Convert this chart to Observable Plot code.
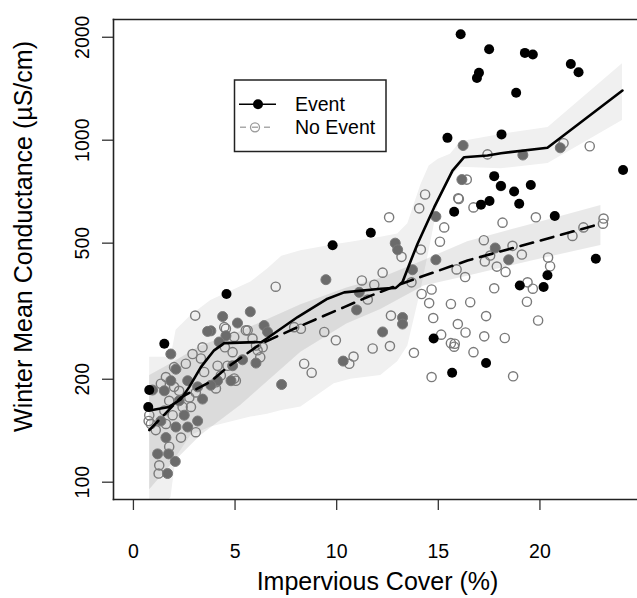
<!DOCTYPE html>
<html><head><meta charset="utf-8">
<script src="https://cdn.jsdelivr.net/npm/d3@7"></script>
<script src="https://cdn.jsdelivr.net/npm/@observablehq/plot@0.6"></script>
<style>
body{margin:0;overflow:hidden;background:#fff;font-family:"Liberation Sans",Arial,Helvetica,sans-serif}
#wrap{position:relative;width:637px;height:598px;overflow:hidden}
</style>
</head><body><div id="wrap"></div>
<script>
// ---- tick labels / titles ----
const xTicks = [0, 5, 10, 15, 20];
const yTicks = [100, 200, 500, 1000, 2000];
const xTitle = "Impervious Cover (%)";
const yTitle = "Winter Mean Conductance (µS/cm)";
const legendLabels = ["Event", "No Event"];

// ---- Event sites (black) ----
const eventX = [16.1,17.5,19.26,19.65,17.0,16.9,21.52,21.9,18.83,15.45,18.11,24.09,17.75,18.08,18.73,19.55,17.52,17.1,18.98,15.78,20.73,22.75,19.01,20.18,20.37,14.77,17.35,15.68,11.68,9.8,4.58,1.52,0.78,0.73];
const eventY = [2040,1845,1800,1780,1575,1520,1670,1580,1376,1016,1040,818,785,735,708,740,664,648,652,618,600,450,376,372,403,263,223,209,536,493,355,254,186,166];

// ---- overlapping / mixed sites (dark grey filled) ----
const mixedX = [16.22,19.16,21.0,16.16,14.88,17.8,18.46,14.88,13.73,13.24,13.24,12.26,12.88,13.0,9.47,11.11,10.98,10.32,7.29,4.39,5.75,5.12,6.43,6.6,4.55,4.22,3.81,5.37,6.03,4.8,4.88,3.65,1.84,2.09,2.67,1.84,1.52,0.94,3.16,3.4,2.25,2.5,3.16,2.09,2.67,1.35,1.6,1.19,1.73,2.06,1.68,4.14,3.81];
const mixedY = [965,905,950,767,598,484,447,447,418,303,290,275,500,478,391,359,319,226,193,305,315,292,287,275,268,257,277,228,223,198,219,276,237,214,198,198,185,186,190,175,173,157,151,145,145,151,135,121,121,115,106,198,192];

// ---- No Event sites (open grey) ----
const noEventX = [3.04,2.91,3.4,2.58,3.48,2.0,4.06,3.07,2.25,1.76,2.83,1.52,0.86,1.1,1.93,2.34,3.07,1.76,1.27,1.24,1.6,2.42,2.0,1.6,1.35,2.75,0.78,0.75,
 7.0,4.55,5.53,4.96,6.11,3.32,4.14,4.96,4.06,7.91,9.39,9.96,8.4,8.77,11.24,11.85,11.77,10.83,10.62,
 12.58,12.26,11.53,12.67,12.62,8.24,4.47,5.86,6.36,5.62,6.03,4.5,4.88,4.63,6.24,5.04,4.3,
 14.35,14.06,16.01,16.4,16.73,15.29,15.08,14.14,13.19,18.16,19.8,17.24,18.65,17.55,17.29,17.88,18.31,19.11,20.4,20.5,21.6,22.14,23.13,23.1,15.9,16.32,13.68,14.67,14.18,14.55,15.62,16.57,17.75,19.39,19.65,19.36,19.91,14.75,15.96,16.34,17.35,17.26,18.27,15.14,15.62,15.81,15.78,16.73,13.8,14.67,18.68,17.42,21.16,22.45,15.98,18.08];
const noEventY = [307,237,248,222,210,217,196,183,185,173,166,162,148,142,157,135,140,127,112,106,148,166,190,203,194,177,157,151,
 373,281,278,266,243,230,219,201,188,284,275,260,222,209,389,378,246,233,222,
 595,410,342,307,250,281,284,263,248,278,251,248,240,219,232,198,205,
 694,632,673,767,636,556,505,479,456,574,595,510,491,460,442,427,412,463,454,428,525,556,590,570,419,398,384,366,355,334,332,336,369,384,368,337,297,302,290,274,306,267,264,270,255,254,249,240,239,203,204,909,980,960,676,735];

// ---- smoothed fits ----
const eventFitX = [0.78,1.76,2.34,2.75,3.32,3.97,4.47,6.3,6.6,8.08,9.55,10.37,12.17,12.91,13.24,13.65,13.98,14.8,15.7,16.27,17.42,18.08,20.37,24.06];
const eventFitY = [162,166,175,190,217,243,255,257,264,304,344,359,368,370,385,445,498,637,815,892,902,916,950,1397];
const noEventFitX = [0.78,2.34,3.81,4.63,6.27,8.08,10.37,11.52,13.16,16.44,19.71,23.0];
const noEventFitY = [142,177,197,217,254,284,325,348,380,445,503,570];

// ---- confidence bands ----
const eventBandX  = [0.8,1.85,2.1,2.83,3.81,5.78,6.6,7.3,8.24,9.88,10.7,12.17,13.0,13.5,14.14,14.55,15.0,15.6,16.1,18.08,20.4,24.06];
const eventBandLo = [80,90,118,137,145,155,158,162,166,194,200,205,225,250,363,476,650,780,834,825,855,1142];
const eventBandHi = [232,232,278,307,340,385,420,458,475,495,503,520,532,570,740,840,880,910,990,1040,1090,1673];
const noEventBandX  = [0.8,1.85,3.32,5.29,8.24,10.5,12.17,14.3,16.44,19.71,23.0];
const noEventBandLo = [95,112,137,168,240,290,320,375,400,445,492];
const noEventBandHi = [205,222,250,276,330,370,395,445,505,570,644];

const pts = (xs, ys) => xs.map((x, i) => ({x, y: ys[i]}));
const band = (xs, lo, hi) => xs.map((x, i) => ({x, lo: lo[i], hi: hi[i]}));

const font = '"Liberation Sans", Arial, Helvetica, sans-serif';

const chart = Plot.plot({
  width: 637, height: 598,
  marginTop: 19, marginBottom: 99, marginLeft: 113, marginRight: 0,
  style: {fontFamily: font, fontSize: "19.5px", color: "#000", background: "#fff"},
  x: {domain: [-0.98, 24.8]},
  y: {type: "log", domain: [89, 2254]},
  marks: [
    Plot.areaY(band(eventBandX, eventBandLo, eventBandHi), {x: "x", y1: "lo", y2: "hi", fill: "#f0f0f0", clip: true}),
    Plot.areaY(band(noEventBandX, noEventBandLo, noEventBandHi), {x: "x", y1: "lo", y2: "hi", fill: "#000", fillOpacity: 0.085, clip: true}),
    Plot.dot(pts(noEventX, noEventY), {x: "x", y: "y", r: 4.6, stroke: "#7a7a7a", strokeWidth: 1.4, fill: "none"}),
    Plot.dot(pts(mixedX, mixedY), {x: "x", y: "y", r: 5, fill: "#6b6b6b", stroke: "#7a7a7a", strokeWidth: 1}),
    Plot.dot(pts(eventX, eventY), {x: "x", y: "y", r: 5, fill: "#000"}),
    Plot.line(pts(noEventFitX, noEventFitY), {x: "x", y: "y", stroke: "#000", strokeWidth: 2.6, strokeDasharray: "13,8"}),
    Plot.line(pts(eventFitX, eventFitY), {x: "x", y: "y", stroke: "#000", strokeWidth: 2.6}),
    Plot.axisX({ticks: xTicks, tickSize: 11, tickFormat: () => "", label: null, stroke: "#333", strokeWidth: 1.3}),
    Plot.axisY({ticks: yTicks, tickSize: 11, tickFormat: () => "", label: null, stroke: "#333", strokeWidth: 1.3}),
    Plot.text(xTicks, {x: d => d, frameAnchor: "bottom", dy: 52, text: d => String(d), fontSize: 19.5, lineAnchor: "middle", textAnchor: "middle"}),
    Plot.text(yTicks, {y: d => d, frameAnchor: "left", dx: -31, rotate: -90, text: d => String(d), fontSize: 19.5, lineAnchor: "middle", textAnchor: "middle"}),
    Plot.frame({anchor: "left", stroke: "#222", strokeWidth: 1.6}),
    Plot.frame({anchor: "top", stroke: "#222", strokeWidth: 1.6}),
    Plot.frame({anchor: "bottom", stroke: "#222", strokeWidth: 1.6}),
    Plot.text([xTitle], {frameAnchor: "bottom", dx: 2, dy: 82, text: d => d, fontSize: 25, lineAnchor: "middle", textAnchor: "middle"}),
    Plot.text([yTitle], {frameAnchor: "left", dx: -90, dy: -23, rotate: -90, text: d => d, fontSize: 25, lineAnchor: "middle", textAnchor: "middle"})
  ]
});

// ---- legend (drawn inside the same svg) ----
const svg = d3.select(chart);
const lg = svg.append("g").attr("font-family", font).attr("font-size", 19.5).attr("text-anchor", "start");
lg.append("rect").attr("x", 234.5).attr("y", 80).attr("width", 151.5).attr("height", 71.5)
  .attr("fill", "#fff").attr("stroke", "#222").attr("stroke-width", 1.5);
// Event row
lg.append("line").attr("x1", 239).attr("x2", 276).attr("y1", 104.3).attr("y2", 104.3).attr("stroke", "#000").attr("stroke-width", 1.6);
lg.append("circle").attr("cx", 258).attr("cy", 104.3).attr("r", 5).attr("fill", "#000");
lg.append("text").attr("x", 295).attr("y", 104.3).attr("dy", "0.35em").attr("text-anchor", "start").text(legendLabels[0]);
// No Event row
lg.append("line").attr("x1", 240).attr("x2", 276).attr("y1", 127.3).attr("y2", 127.3).attr("stroke", "#aaa").attr("stroke-width", 1.6).attr("stroke-dasharray", "6,6");
lg.append("circle").attr("cx", 255).attr("cy", 127.3).attr("r", 4.5).attr("fill", "none").attr("stroke", "#999").attr("stroke-width", 1.3);
lg.append("text").attr("x", 295).attr("y", 127.3).attr("dy", "0.35em").attr("text-anchor", "start").text(legendLabels[1]);

document.getElementById("wrap").appendChild(chart);
</script>
</body></html>
